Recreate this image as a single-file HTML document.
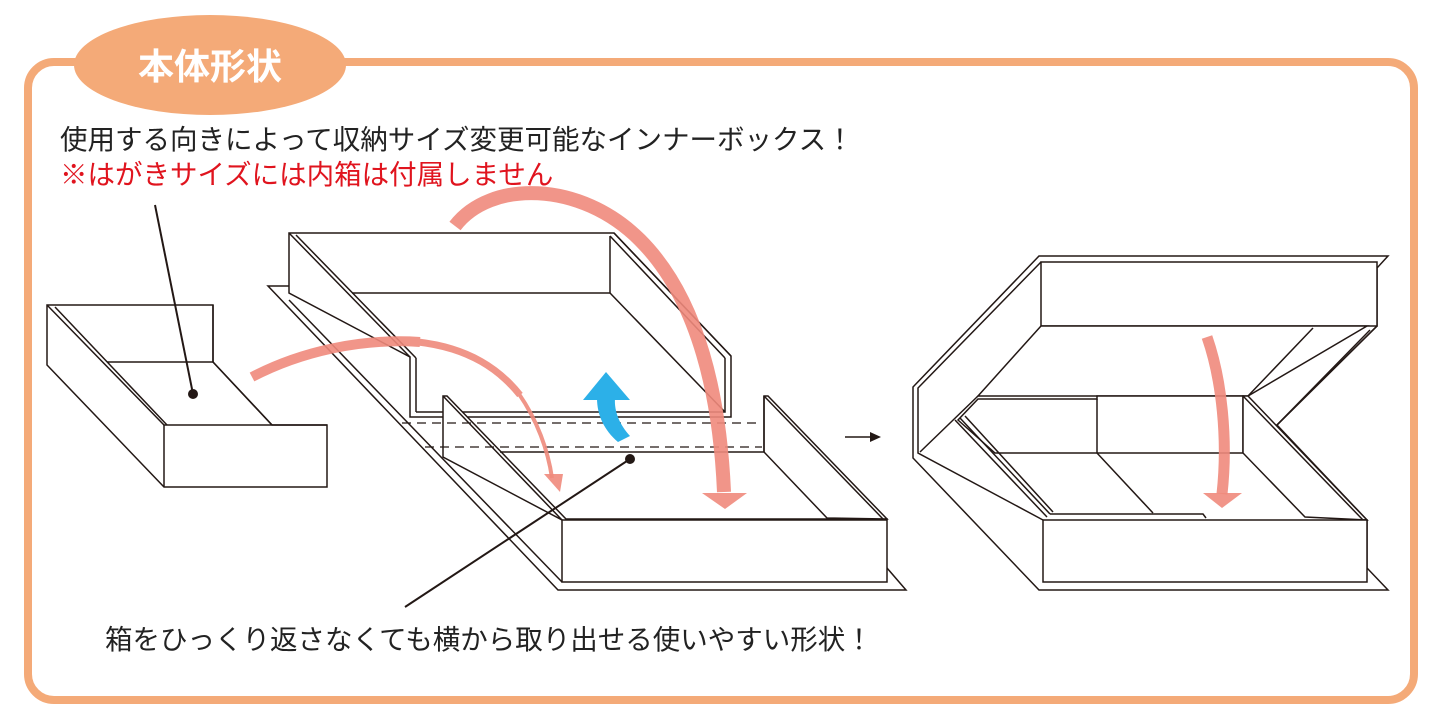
<!DOCTYPE html>
<html><head><meta charset="utf-8"><style>
html,body{margin:0;padding:0;background:#fff;}
svg{display:block}
text{font-family:"Liberation Sans","Noto Sans CJK JP",sans-serif;}
</style></head><body>
<svg width="1433" height="724" viewBox="0 0 1433 724" xmlns="http://www.w3.org/2000/svg">
<rect x="28" y="62" width="1386" height="638" rx="26" fill="#fff" stroke="#f4aa78" stroke-width="8"/>
<ellipse cx="210" cy="65" rx="136" ry="50" fill="#f4aa78"/>
<text x="210" y="79" text-anchor="middle" font-size="36" font-weight="bold" fill="#fff">本体形状</text>
<text x="60" y="149" font-size="27.5" fill="#222">使用する向きによって収納サイズ変更可能なインナーボックス！</text>
<text x="60" y="184" font-size="27.5" fill="#e0141e">※はがきサイズには内箱は付属しません</text>
<text x="105" y="649" font-size="27.5" fill="#222">箱をひっくり返さなくても横から取り出せる使いやすい形状！</text>

<g fill="#fff" stroke="#231815" stroke-width="1.5" stroke-linejoin="miter">
<!-- left box -->
<polygon points="47,305 213,305 213,362 272,425 327,425 327,487 164,487 47,365"/>
<polyline points="47,305 164,425 327,425" fill="none"/>
<line x1="55" y1="307" x2="167" y2="425"/>
<polyline points="107,362 213,362 213,305" fill="none"/>
<line x1="213" y1="362" x2="272" y2="425"/>
<line x1="164" y1="425" x2="164" y2="487"/>

<!-- middle base plate -->
<polyline points="289,286 268,286 558,590 906,590 887,568" fill="none"/>
<line x1="289" y1="300" x2="562" y2="582"/>
<!-- upper tray -->
<polygon points="289,233 614,233 731,356 731,417 410,417 410,357 289,293"/>
<polyline points="289,233 410,357" fill="none"/>
<line x1="296" y1="235" x2="416" y2="358"/>
<line x1="416" y1="358" x2="416" y2="412"/>
<polyline points="416,412 725,412 725,358" fill="none"/>
<polyline points="352,293 610,293 610,236" fill="none"/>
<line x1="610" y1="293" x2="725" y2="412"/>
<line x1="614" y1="233" x2="731" y2="356"/>
<line x1="610" y1="236" x2="725" y2="358"/>
<!-- lower tray -->
<polygon points="443,396 447,396 566,519 887,519 887,582 562,582 562,520 443,457"/>
<line x1="562" y1="520" x2="887" y2="520"/>
<polygon points="764,396 768,396 887,519 827,518 764,452" />
<line x1="764" y1="396" x2="764" y2="452"/>
<line x1="764" y1="396" x2="883" y2="519"/>
<line x1="500" y1="452" x2="764" y2="452"/>
<line x1="443" y1="396" x2="562" y2="520"/>

<!-- right box -->
<polygon points="1039,256 1388,256 1377,268 1377,326 1277,425 1367,520 1367,568 1388,590 1039,590 913,458 913,387"/>
<polyline points="1041,262 918,388 918,453 1043,520" fill="none"/>
<rect x="1041" y="262" width="336" height="64"/>
<polygon points="1041,326 1367,326 1248,396 978,396"/>
<line x1="978" y1="396" x2="920" y2="452"/>
<line x1="1313" y1="328" x2="1248" y2="396"/>
<line x1="1377" y1="326" x2="1277" y2="425"/>
<line x1="1370" y1="330" x2="1272" y2="430"/>
<polygon points="978,399 1097,399 1097,396 1243,396 1243,453 995,453 958,420" />
<line x1="1097" y1="399" x2="1097" y2="453"/>
<polygon points="1243,396 1248,396 1367,520 1305,517 1243,453" />
<line x1="1243" y1="396" x2="1363" y2="520"/>
<line x1="1097" y1="453" x2="1153" y2="513"/>
<line x1="955" y1="420" x2="1047" y2="517"/>
<line x1="960" y1="418" x2="1050" y2="514"/>
<line x1="965" y1="416" x2="1053" y2="512"/>
<polyline points="1050,514 1203,514 1206,518" fill="none"/>
<rect x="1043" y="520" width="324" height="62"/>
</g>

<!-- dashed lines -->
<g stroke="#231815" stroke-width="1.2" stroke-dasharray="9,6">
<line x1="402" y1="423" x2="762" y2="423"/>
<line x1="425" y1="447" x2="762" y2="447"/>
</g>

<!-- leaders -->
<line x1="155" y1="205" x2="193" y2="394" stroke="#231815" stroke-width="2"/>
<circle cx="193" cy="394" r="5" fill="#231815"/>
<line x1="630" y1="459" x2="405" y2="607" stroke="#231815" stroke-width="2"/>
<circle cx="630" cy="459" r="5" fill="#231815"/>
<line x1="845" y1="437" x2="872" y2="437" stroke="#231815" stroke-width="1.5"/>
<polygon points="870,432 881,437 870,442" fill="#231815"/>

<!-- pink arrows -->
<g fill="none" stroke="#ef8a7c" stroke-linecap="butt" opacity="0.9">
<path d="M252,377 C300,352 360,338 420,342" stroke-width="10"/>
<path d="M418,342 C470,348 500,370 520,395" stroke-width="7"/>
<path d="M519,394 C537,420 548,450 552,478" stroke-width="4"/>
<path d="M455,226 C490,180 580,180 640,240 C700,300 720,400 724,492" stroke-width="14"/>
<path d="M1207,337 C1222,380 1228,440 1222,494" stroke-width="11"/>
</g>
<g fill="#ef8a7c" opacity="0.9">
<polygon points="544,474 563,474 560,492"/>
<polygon points="702,493 747,493 725,509"/>
<polygon points="1203,493 1242,493 1222,508"/>
</g>
<path d="M597,398 C597,415 604,430 618,442 L630,436 C620,425 614,412 615,398 Z" fill="#2cb0e8"/>
<polygon points="583,400 606,372 630,400" fill="#2cb0e8"/>
</svg>
</body></html>
